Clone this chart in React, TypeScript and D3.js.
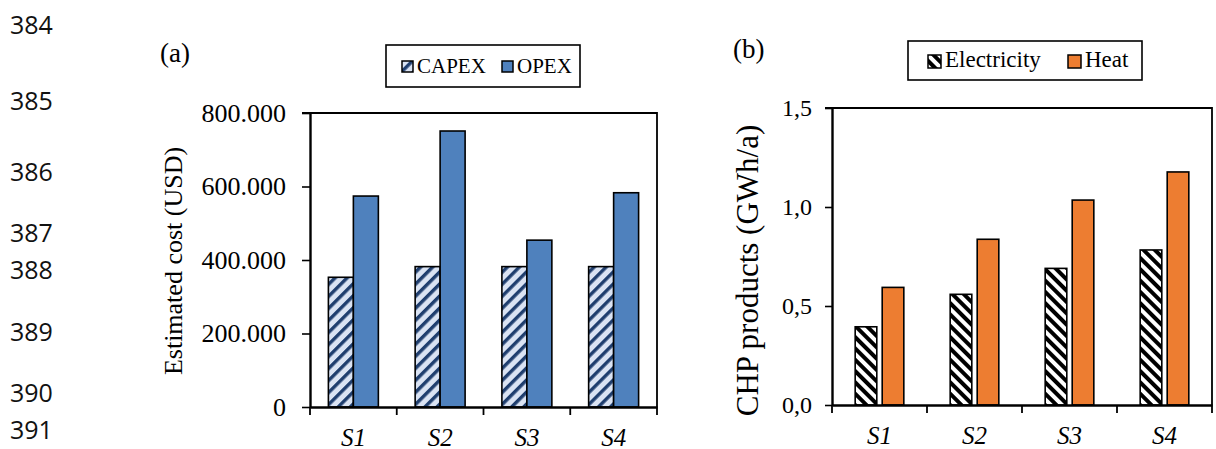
import React, { useEffect, useRef } from "react";
import * as d3 from "d3";

// scenario categories
const scenarios = ["S1", "S2", "S3", "S4"];

// (a) estimated cost, USD
const costSeries = ["CAPEX", "OPEX"];
const capex = [353000, 382000, 382000, 382000];
const opex = [574000, 751000, 454000, 583000];
const costTicks = [0, 200000, 400000, 600000, 800000];

// (b) CHP products, GWh/a
const chpSeries = ["Electricity", "Heat"];
const electricity = [0.395, 0.559, 0.69, 0.783];
const heat = [0.594, 0.837, 1.035, 1.177];
const chpTicks = [0, 0.5, 1.0, 1.5];

// manuscript line numbers in the left margin
const lineNumbers = ["384", "385", "386", "387", "388", "389", "390", "391"];
const LINE_NUMBER_Y = [25, 101, 172, 233, 270, 332, 393, 430];

const SERIF = "'Liberation Serif', 'Times New Roman', serif";
const locale = d3.formatLocale({
  decimal: ",",
  thousands: ".",
  grouping: [3],
  currency: ["", ""],
});

const drawPanel = (svg, cfg) => {
  const { left, right, top, bottom } = cfg.box;
  const g = svg.append("g").attr("font-family", SERIF);

  const xCat = d3.scaleBand().domain(scenarios).range([left, right]);
  const band = xCat.bandwidth();
  const groupW = band * cfg.groupFrac;
  const xSer = d3
    .scaleBand()
    .domain(cfg.series)
    .range([(band - groupW) / 2, (band + groupW) / 2])
    .paddingInner(cfg.innerPad);
  const y = d3.scaleLinear().domain(cfg.domain).range([bottom, top]);

  // bars
  const rows = scenarios.map((s, i) => ({
    s,
    vals: cfg.series.map((k, j) => ({ k, v: cfg.values[j][i], fill: cfg.fills[j] })),
  }));
  g.selectAll("g.grp")
    .data(rows)
    .join("g")
    .attr("class", "grp")
    .attr("transform", (d) => `translate(${xCat(d.s)},0)`)
    .selectAll("rect")
    .data((d) => d.vals)
    .join("rect")
    .attr("x", (d) => xSer(d.k))
    .attr("width", xSer.bandwidth())
    .attr("y", (d) => y(d.v))
    .attr("height", (d) => bottom - y(d.v))
    .attr("fill", (d) => d.fill)
    .attr("stroke", "#000")
    .attr("stroke-width", 1.6);

  // top & right border of the plot box
  g.append("path")
    .attr("d", `M${left - cfg.tick},${top}H${right}V${bottom}`)
    .attr("fill", "none")
    .attr("stroke", "#000")
    .attr("stroke-width", 1.8);

  // y axis
  const yAxis = g
    .append("g")
    .attr("transform", `translate(${left},0)`)
    .call(
      d3
        .axisLeft(y)
        .tickValues(cfg.ticks)
        .tickFormat(cfg.format)
        .tickSizeOuter(0)
        .tickSizeInner(cfg.tick)
        .tickPadding(cfg.tickPad)
    )
    .attr("font-family", SERIF);
  yAxis.select(".domain").attr("stroke-width", 2.4);
  yAxis.selectAll(".tick line").attr("stroke-width", 1.6);
  yAxis
    .selectAll("text")
    .attr("fill", "#000")
    .style("font-family", SERIF)
    .style("font-size", cfg.tickFont + "px");

  // x axis
  const xAxis = g
    .append("g")
    .attr("transform", `translate(0,${bottom})`)
    .call(d3.axisBottom(xCat).tickSize(0).tickSizeOuter(0).tickPadding(21))
    .attr("font-family", SERIF);
  xAxis.select(".domain").attr("stroke-width", 2.6);
  xAxis
    .selectAll("text")
    .attr("fill", "#000")
    .style("font-family", SERIF)
    .style("font-style", "italic")
    .style("font-size", "25px");
  xAxis
    .selectAll("line.bound")
    .data(d3.range(scenarios.length + 1))
    .join("line")
    .attr("class", "bound")
    .attr("x1", (i) => left + i * xCat.step())
    .attr("x2", (i) => left + i * xCat.step())
    .attr("y1", 0)
    .attr("y2", 8)
    .attr("stroke", "#000")
    .attr("stroke-width", 1.8);

  // y title
  g.append("text")
    .attr("transform", `translate(${cfg.titleX},${(top + bottom) / 2 + cfg.titleDy}) rotate(-90)`)
    .attr("text-anchor", "middle")
    .style("font-size", cfg.titleFont + "px")
    .text(cfg.title);

  // panel letter
  g.append("text")
    .attr("x", cfg.letter.x)
    .attr("y", cfg.letter.y)
    .style("font-size", "27px")
    .text(cfg.letter.text);

  // legend
  const lg = cfg.legend;
  g.append("rect")
    .attr("x", lg.x)
    .attr("y", lg.y)
    .attr("width", lg.w)
    .attr("height", lg.h)
    .attr("fill", "#fff")
    .attr("stroke", "#000")
    .attr("stroke-width", 1.6);
  const items = g
    .selectAll("g.leg")
    .data(cfg.series)
    .join("g")
    .attr("class", "leg")
    .attr("transform", (d, i) => `translate(${lg.x + lg.itemX[i]},${lg.y})`);
  items
    .append("rect")
    .attr("x", 0)
    .attr("y", lg.swY)
    .attr("width", lg.sw)
    .attr("height", lg.sw)
    .attr("fill", (d, i) => cfg.fills[i])
    .attr("stroke", "#000")
    .attr("stroke-width", 1.5);
  items
    .append("text")
    .attr("x", lg.sw + 4)
    .attr("y", lg.base)
    .style("font-size", lg.font + "px")
    .text((d) => d);
};

const App = () => {
  const svgRef = useRef(null);

  useEffect(() => {
    const svg = d3.select(svgRef.current);
    svg.selectAll("g").remove();

    drawPanel(svg, {
      box: { left: 310, right: 657, top: 113, bottom: 407 },
      series: costSeries,
      values: [capex, opex],
      fills: ["url(#capexHatch)", "#4f81bd"],
      domain: [0, 800000],
      ticks: costTicks,
      format: locale.format(",.0f"),
      groupFrac: 0.576,
      innerPad: 0,
      tick: 8,
      tickPad: 16,
      tickFont: 26,
      title: "Estimated cost (USD)",
      titleX: 182,
      titleDy: 1,
      titleFont: 26,
      letter: { x: 160, y: 62, text: "(a)" },
      legend: { x: 386, y: 45, w: 194, h: 42, itemX: [16, 116], sw: 11, swY: 16, base: 28, font: 21 },
    });

    drawPanel(svg, {
      box: { left: 832, right: 1212, top: 108, bottom: 405 },
      series: chpSeries,
      values: [electricity, heat],
      fills: ["url(#elecHatch)", "#ed7d31"],
      domain: [0, 1.5],
      ticks: chpTicks,
      format: locale.format(".1f"),
      groupFrac: 0.512,
      innerPad: 0.2,
      tick: 7,
      tickPad: 13,
      tickFont: 24,
      title: "CHP products (GWh/a)",
      titleX: 758,
      titleDy: 14,
      titleFont: 31,
      letter: { x: 733, y: 58, text: "(b)" },
      legend: { x: 908, y: 41, w: 234, h: 39, itemX: [20, 160], sw: 13, swY: 14, base: 26, font: 23 },
    });
  }, []);

  return (
    <svg
      ref={svgRef}
      width={1216}
      height={449}
      style={{ position: "absolute", left: 0, top: 0, background: "#fff" }}
    >
      <defs>
        <pattern id="capexHatch" patternUnits="userSpaceOnUse" width={8.5} height={8.5} patternTransform="rotate(45)">
          <rect width={8.5} height={8.5} fill="#dae3f3" />
          <rect width={3.4} height={8.5} fill="#1f3e6e" />
        </pattern>
        <pattern id="elecHatch" patternUnits="userSpaceOnUse" width={8} height={8} patternTransform="rotate(-45)">
          <rect width={8} height={8} fill="#fff" />
          <rect width={4} height={8} fill="#000" />
        </pattern>
      </defs>
      {lineNumbers.map((n, i) => (
        <text
          key={n}
          x={10}
          y={LINE_NUMBER_Y[i]}
          dy="0.36em"
          fontFamily="'Open Sans', 'Noto Sans', sans-serif"
          fontSize={25}
          fill="#111"
        >
          {n}
        </text>
      ))}
    </svg>
  );
};

export default App;
